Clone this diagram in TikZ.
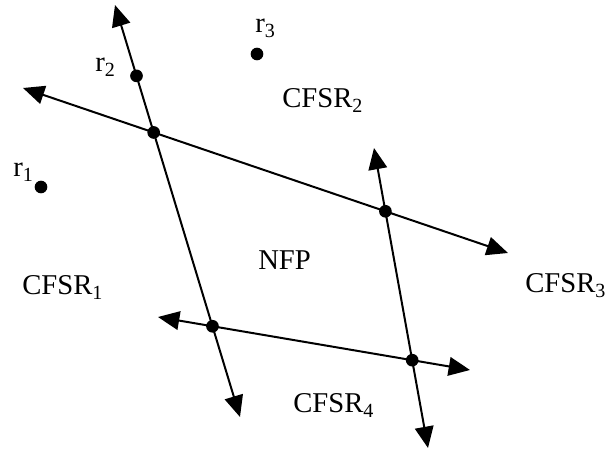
\documentclass[tikz,border=0pt]{standalone}
\usepackage{fontspec}
\setmainfont{Liberation Serif}
\usetikzlibrary{arrows.meta,calc}
\begin{document}
\begin{tikzpicture}[x=0.75pt,y=-0.75pt,
  ln/.style={line width=1.5pt, {Triangle[length=16pt,width=14pt]}-{Triangle[length=16pt,width=14pt]}},
  dot/.style={circle, fill=black, inner sep=0pt, minimum size=9.5pt},
  lbl/.style={anchor=base west, inner sep=0pt, font=\fontsize{21.5}{25}\selectfont}]
\useasboundingbox (0,0) rectangle (608,452);
\coordinate (a1) at (115,5);   \coordinate (a2) at (240,417);
\coordinate (b1) at (23,88);   \coordinate (b2) at (508,253);
\coordinate (c1) at (374,148); \coordinate (c2) at (428,448);
\coordinate (d1) at (158,317); \coordinate (d2) at (470,370);
\draw[ln] (a1) -- (a2);
\draw[ln] (b1) -- (b2);
\draw[ln] (c1) -- (c2);
\draw[ln] (d1) -- (d2);
\node[dot] (A) at (intersection of a1--a2 and b1--b2) {};
\node[dot] (B) at (intersection of b1--b2 and c1--c2) {};
\node[dot] (C) at (intersection of a1--a2 and d1--d2) {};
\node[dot] (D) at (intersection of c1--c2 and d1--d2) {};
\node[dot] (p2) at ($(a1)!0.172!(a2)$) {};
\node[dot] (p1) at (41,187) {};
\node[dot] (p3) at (257,54) {};
\node[lbl] (l3) at (255,33) {r\textsubscript{3}};
\node[lbl] (l2) at (95,72) {r\textsubscript{2}};
\node[lbl] (l1) at (13,177) {r\textsubscript{1}};
\node[lbl] (s2) at (282,108) {CFSR\textsubscript{2}};
\node[lbl] (s1) at (22,295) {CFSR\textsubscript{1}};
\node[lbl] (s3) at (525,293) {CFSR\textsubscript{3}};
\node[lbl] (s4) at (293,413) {CFSR\textsubscript{4}};
\node[lbl] (nfp) at (258,270) {NFP};
\end{tikzpicture}
\end{document}
